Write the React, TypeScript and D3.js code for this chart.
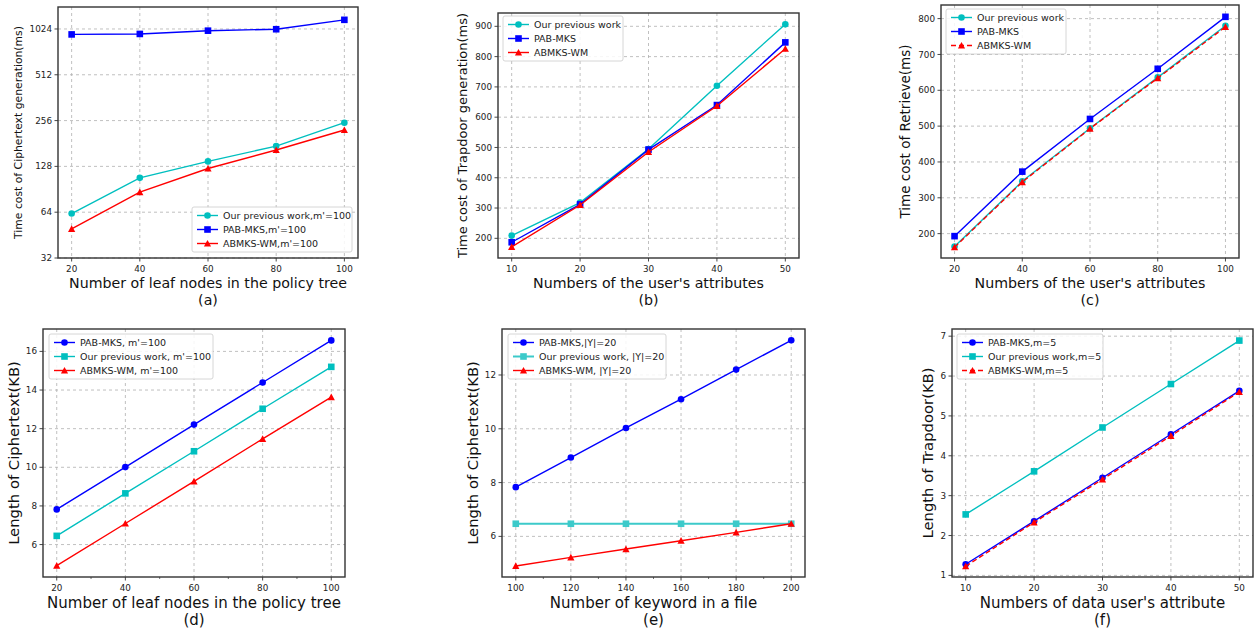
import React from 'react';
import * as d3 from 'd3';

// ---- data ----
const leafNodes = [20, 40, 60, 80, 100];
const userAttrsB = [10, 20, 30, 40, 50];
const userAttrsC = [20, 40, 60, 80, 100];
const keywords = [100, 120, 140, 160, 180, 200];
const dataUserAttrs = [10, 20, 30, 40, 50];

// (a) ciphertext generation time (ms)
const prevCipherGen = [62.7, 107.6, 138, 174, 248];
const pabCipherGen = [943, 950, 998, 1020, 1176];
const abmksCipherGen = [49.7, 86.6, 124, 164, 222];

// (b) trapdoor generation time (ms)
const prevTrapGen = [209, 318, 495, 704, 907];
const pabTrapGen = [187, 312, 493, 640, 847];
const abmksTrapGen = [172, 310, 485, 637, 826];

// (c) retrieve time (ms)
const prevRetrieve = [164, 346, 494, 636, 780];
const pabRetrieve = [193, 373, 520, 660, 805];
const abmksRetrieve = [162, 344, 493, 634, 777];

// (d) ciphertext length vs leaf nodes (KB)
const pabCipherLen = [7.82, 10.01, 12.21, 14.39, 16.57];
const prevCipherLen = [6.45, 8.65, 10.83, 13.03, 15.2];
const abmksCipherLen = [4.91, 7.09, 9.27, 11.47, 13.63];

// (e) ciphertext length vs keywords (KB)
const pabKwLen = [7.83, 8.93, 10.03, 11.1, 12.2, 13.29];
const prevKwLen = [6.47, 6.47, 6.47, 6.47, 6.47, 6.47];
const abmksKwLen = [4.9, 5.22, 5.53, 5.84, 6.15, 6.47];

// (f) trapdoor length (KB)
const pabTrapLen = [1.28, 2.36, 3.45, 4.54, 5.63];
const prevTrapLen = [2.53, 3.61, 4.71, 5.8, 6.89];
const abmksTrapLen = [1.23, 2.33, 3.41, 4.5, 5.6];

// tick labels
const ticksLog2 = [32, 64, 128, 256, 512, 1024];
const ticks200to900 = [200, 300, 400, 500, 600, 700, 800, 900];
const ticks200to800 = [200, 300, 400, 500, 600, 700, 800];
const ticks6to16 = [6, 8, 10, 12, 14, 16];
const ticks6to12 = [6, 8, 10, 12];
const ticks1to7 = [1, 2, 3, 4, 5, 6, 7];

const CYAN = '#00bfbf';
const BLUE = '#0000ff';
const RED = '#ff0000';
const FONT = '"DejaVu Sans", Verdana, sans-serif';

type Marker = 'circle' | 'square' | 'triangle';
type Series = {
  name: string;
  values: number[];
  color: string;
  marker: Marker;
  dashed?: boolean;
  width?: number;
};
type PanelSpec = {
  box: [number, number, number, number]; // left, top, right, bottom
  xs: number[];
  xDomain: [number, number];
  yDomain: [number, number];
  log?: boolean;
  xTicks: number[];
  xMinor?: number[];
  yTicks: number[];
  series: Series[];
  legend: { x: number; y: number; w: number };
  xLabel: string;
  xLabelSize: number;
  xLabelY: number;
  caption: string;
  yLabel: string;
  yLabelSize: number;
  yLabelX: number;
};

const MarkerShape = ({ m, x, y, color }: { m: Marker; x: number; y: number; color: string }) => {
  if (m === 'circle') return <circle cx={x} cy={y} r={3.3} fill={color} />;
  if (m === 'square') return <rect x={x - 3.3} y={y - 3.3} width={6.6} height={6.6} fill={color} />;
  return (
    <polygon
      points={`${x},${y - 3.6} ${x + 3.6},${y + 3.1} ${x - 3.6},${y + 3.1}`}
      fill={color}
    />
  );
};

const Panel = ({ p }: { p: PanelSpec }) => {
  const [L, T, R, B] = p.box;
  const x = d3.scaleLinear().domain(p.xDomain).range([L, R]);
  const y = p.log
    ? d3.scaleLog().base(2).domain(p.yDomain).range([B, T])
    : d3.scaleLinear().domain(p.yDomain).range([B, T]);
  const cx = (L + R) / 2;
  const cy = (T + B) / 2;
  const clipId = `clip-${p.caption.replace(/[()]/g, '')}`;

  return (
    <g>
      <defs>
        <clipPath id={clipId}>
          <rect x={L} y={T} width={R - L} height={B - T} />
        </clipPath>
      </defs>
      {/* grid */}
      {p.xTicks.map((t) => (
        <line key={`gx${t}`} x1={x(t)} x2={x(t)} y1={T} y2={B} stroke="#b0b0b0" strokeWidth={0.8} strokeDasharray="3,3" />
      ))}
      {p.yTicks.map((t) => (
        <line key={`gy${t}`} x1={L} x2={R} y1={y(t)} y2={y(t)} stroke="#b0b0b0" strokeWidth={0.8} strokeDasharray="3,3" />
      ))}
      {/* series */}
      <g clipPath={`url(#${clipId})`}>
        {p.series.map((s) => {
          const line = d3
            .line<number>()
            .x((_, i) => x(p.xs[i]))
            .y((v) => y(v));
          return (
            <g key={s.name}>
              <path
                d={line(s.values) || ''}
                fill="none"
                stroke={s.color}
                strokeWidth={s.width ?? 1.4}
                strokeDasharray={s.dashed ? '5,3' : undefined}
              />
              {s.values.map((v, i) => (
                <MarkerShape key={i} m={s.marker} x={x(p.xs[i])} y={y(v)} color={s.color} />
              ))}
            </g>
          );
        })}
      </g>
      {/* frame */}
      <rect x={L} y={T} width={R - L} height={B - T} fill="none" stroke="#333" strokeWidth={1.4} />
      {/* x ticks */}
      {p.xTicks.map((t) => (
        <g key={`tx${t}`}>
          <line x1={x(t)} x2={x(t)} y1={B} y2={B + 3.5} stroke="#333" strokeWidth={0.9} />
          <text x={x(t)} y={B + 14} textAnchor="middle" fontSize={8.8} fill="#222" fontFamily={FONT}>
            {t}
          </text>
        </g>
      ))}
      {(p.xMinor || []).map((t) => (
        <line key={`mx${t}`} x1={x(t)} x2={x(t)} y1={B} y2={B + 2} stroke="#333" strokeWidth={0.7} />
      ))}
      {/* y ticks */}
      {p.yTicks.map((t) => (
        <g key={`ty${t}`}>
          <line x1={L - 3.5} x2={L} y1={y(t)} y2={y(t)} stroke="#333" strokeWidth={0.9} />
          <text x={L - 6} y={y(t)} dy="0.35em" textAnchor="end" fontSize={8.8} fill="#222" fontFamily={FONT}>
            {t}
          </text>
        </g>
      ))}
      {/* labels */}
      <text x={cx} y={p.xLabelY} textAnchor="middle" fontSize={p.xLabelSize} fill="#111" fontFamily={FONT}>
        {p.xLabel}
      </text>
      <text x={cx} y={p.xLabelY + 17} textAnchor="middle" fontSize={p.xLabelSize} fill="#111" fontFamily={FONT}>
        {p.caption}
      </text>
      <text
        transform={`translate(${p.yLabelX},${cy}) rotate(-90)`}
        textAnchor="middle"
        dy="0.35em"
        fontSize={p.yLabelSize}
        fill="#111"
        fontFamily={FONT}
      >
        {p.yLabel}
      </text>
      {/* legend */}
      <g transform={`translate(${p.legend.x},${p.legend.y})`}>
        <rect
          x={0}
          y={0}
          width={p.legend.w}
          height={45}
          rx={2}
          fill="#fff"
          fillOpacity={0.85}
          stroke="#cccccc"
          strokeWidth={0.8}
        />
        {p.series.map((s, i) => {
          const ry = 8.5 + i * 14;
          return (
            <g key={s.name}>
              <line
                x1={5}
                x2={26}
                y1={ry}
                y2={ry}
                stroke={s.color}
                strokeWidth={s.width ?? 1.4}
                strokeDasharray={s.dashed ? '5,3' : undefined}
              />
              <MarkerShape m={s.marker} x={15.5} y={ry} color={s.color} />
              <text x={31} y={ry} dy="0.35em" fontSize={9.5} fill="#222" fontFamily={FONT}>
                {s.name}
              </text>
            </g>
          );
        })}
      </g>
    </g>
  );
};

const panels: PanelSpec[] = [
  {
    box: [58, 7, 358, 258],
    xs: leafNodes,
    xDomain: [16, 104],
    yDomain: [32, 1428],
    log: true,
    xTicks: leafNodes,
    yTicks: ticksLog2,
    series: [
      { name: "Our previous work,m'=100", values: prevCipherGen, color: CYAN, marker: 'circle' },
      { name: "PAB-MKS,m'=100", values: pabCipherGen, color: BLUE, marker: 'square' },
      { name: "ABMKS-WM,m'=100", values: abmksCipherGen, color: RED, marker: 'triangle' },
    ],
    legend: { x: 192, y: 207, w: 160 },
    xLabel: 'Number of leaf nodes in the policy tree',
    xLabelSize: 14.2,
    xLabelY: 288,
    caption: '(a)',
    yLabel: 'Time cost of Ciphertext generation(ms)',
    yLabelSize: 10.8,
    yLabelX: 18,
  },
  {
    box: [498, 13, 799, 258],
    xs: userAttrsB,
    xDomain: [8, 52],
    yDomain: [135, 944],
    xTicks: userAttrsB,
    yTicks: ticks200to900,
    series: [
      { name: 'Our previous work', values: prevTrapGen, color: CYAN, marker: 'circle' },
      { name: 'PAB-MKS', values: pabTrapGen, color: BLUE, marker: 'square' },
      { name: 'ABMKS-WM', values: abmksTrapGen, color: RED, marker: 'triangle' },
    ],
    legend: { x: 503, y: 16, w: 120 },
    xLabel: "Numbers of the user's attributes",
    xLabelSize: 14.2,
    xLabelY: 288,
    caption: '(b)',
    yLabel: 'Time cost of Trapdoor generation(ms)',
    yLabelSize: 13,
    yLabelX: 462,
  },
  {
    box: [941, 5, 1239, 258],
    xs: userAttrsC,
    xDomain: [16, 104],
    yDomain: [132, 838],
    xTicks: userAttrsC,
    yTicks: ticks200to800,
    series: [
      { name: 'Our previous work', values: prevRetrieve, color: CYAN, marker: 'circle' },
      { name: 'PAB-MKS', values: pabRetrieve, color: BLUE, marker: 'square' },
      { name: 'ABMKS-WM', values: abmksRetrieve, color: RED, marker: 'triangle', dashed: true },
    ],
    legend: { x: 946, y: 9, w: 120 },
    xLabel: "Numbers of the user's attributes",
    xLabelSize: 14.2,
    xLabelY: 288,
    caption: '(c)',
    yLabel: 'Time cost of Retrieve(ms)',
    yLabelSize: 13.5,
    yLabelX: 905,
  },
  {
    box: [43, 329, 345, 577],
    xs: leafNodes,
    xDomain: [16, 104],
    yDomain: [4.32, 17.16],
    xTicks: leafNodes,
    xMinor: [30, 50, 70, 90],
    yTicks: ticks6to16,
    series: [
      { name: "PAB-MKS, m'=100", values: pabCipherLen, color: BLUE, marker: 'circle' },
      { name: "Our previous work, m'=100", values: prevCipherLen, color: CYAN, marker: 'square' },
      { name: "ABMKS-WM, m'=100", values: abmksCipherLen, color: RED, marker: 'triangle' },
    ],
    legend: { x: 49, y: 334, w: 164 },
    xLabel: 'Number of leaf nodes in the policy tree',
    xLabelSize: 15,
    xLabelY: 608,
    caption: '(d)',
    yLabel: 'Length of Ciphertext(KB)',
    yLabelSize: 14.8,
    yLabelX: 14,
  },
  {
    box: [502, 329, 805, 577],
    xs: keywords,
    xDomain: [95, 205],
    yDomain: [4.49, 13.71],
    xTicks: keywords,
    xMinor: [110, 130, 150, 170, 190],
    yTicks: ticks6to12,
    series: [
      { name: 'PAB-MKS,|Y|=20', values: pabKwLen, color: BLUE, marker: 'circle' },
      { name: 'Our previous work, |Y|=20', values: prevKwLen, color: '#3ccaca', marker: 'square', width: 2 },
      { name: 'ABMKS-WM, |Y|=20', values: abmksKwLen, color: RED, marker: 'triangle' },
    ],
    legend: { x: 508, y: 334, w: 158 },
    xLabel: 'Number of keyword in a file',
    xLabelSize: 15,
    xLabelY: 608,
    caption: '(e)',
    yLabel: 'Length of Ciphertext(KB)',
    yLabelSize: 14.8,
    yLabelX: 473,
  },
  {
    box: [952, 329, 1253, 577],
    xs: dataUserAttrs,
    xDomain: [8, 52],
    yDomain: [0.96, 7.18],
    xTicks: dataUserAttrs,
    yTicks: ticks1to7,
    series: [
      { name: 'PAB-MKS,m=5', values: pabTrapLen, color: BLUE, marker: 'circle' },
      { name: 'Our previous work,m=5', values: prevTrapLen, color: CYAN, marker: 'square' },
      { name: 'ABMKS-WM,m=5', values: abmksTrapLen, color: RED, marker: 'triangle', dashed: true },
    ],
    legend: { x: 957, y: 334, w: 146 },
    xLabel: "Numbers of data user's attribute",
    xLabelSize: 15,
    xLabelY: 608,
    caption: '(f)',
    yLabel: 'Length of Trapdoor(KB)',
    yLabelSize: 14.8,
    yLabelX: 928,
  },
];

export default function App() {
  return (
    <svg
      width={1254}
      height={630}
      style={{ position: 'absolute', left: 0, top: 0, background: '#fff' }}
    >
      <rect width={1254} height={630} fill="#fff" />
      {panels.map((p) => (
        <Panel key={p.caption} p={p} />
      ))}
    </svg>
  );
}
